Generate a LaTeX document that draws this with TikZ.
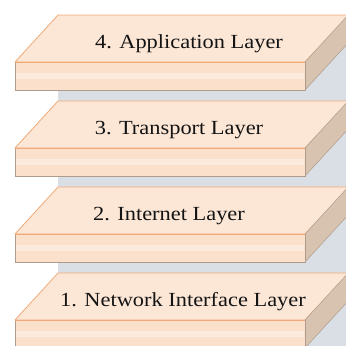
\documentclass[tikz,border=0pt]{standalone}
\usepackage{fontspec}
\setmainfont{Liberation Serif}[FakeStretch=1.12]
\definecolor{colgray}{RGB}{218,223,230}
\definecolor{topfill}{RGB}{252,230,214}
\definecolor{frontfill}{RGB}{251,224,204}
\definecolor{edgeorange}{RGB}{240,170,120}
\definecolor{edgebrown}{RGB}{176,156,140}
\definecolor{sidefill}{RGB}{216,194,176}
\definecolor{textcol}{RGB}{20,20,20}
\tikzset{
  topface/.style={fill=topfill, draw=edgeorange, line width=0.8pt, line join=round},
  frontface/.style={fill=frontfill, draw=edgebrown, line width=0.6pt},
  frontedge/.style={draw=edgeorange, line width=0.8pt},
  sideface/.style={fill=sidefill, draw=edgebrown, line width=0.5pt},
  layertext/.style={font=\fontsize{20}{24}\selectfont, text=textcol, inner sep=0pt, anchor=base}
}
\begin{document}
\begin{tikzpicture}[x=1pt,y=-1pt]
\useasboundingbox (0,0) rectangle (346,346);
\clip (0,0) rectangle (346,346);
\fill[colgray] (58,15) rectangle (346,346);
\foreach \b/\tx/\lbl/\nm in {15/189/{4. Application Layer}/l4, 101/179/{3. Transport Layer}/l3, 187/169/{2. Internet Layer}/l2, 273/183/{1. Network Interface Layer}/l1}{
  \path[topface] (15,\b+47) -- (58,\b) -- (350,\b) -- (305,\b+47) -- cycle;
  \path[sideface] (305,\b+47) -- (350,\b-2) -- (350,\b+26) -- (305,\b+75) -- cycle;
  \path[frontface] (15,\b+47) rectangle (305,\b+75);
  \fill[white, opacity=0.35] (16,\b+58) rectangle (304,\b+64);
  \draw[frontedge] (15,\b+47) -- (305,\b+47);
  \node[layertext] (\nm) at (\tx,\b+33) {\lbl};
}
\end{tikzpicture}
\end{document}
